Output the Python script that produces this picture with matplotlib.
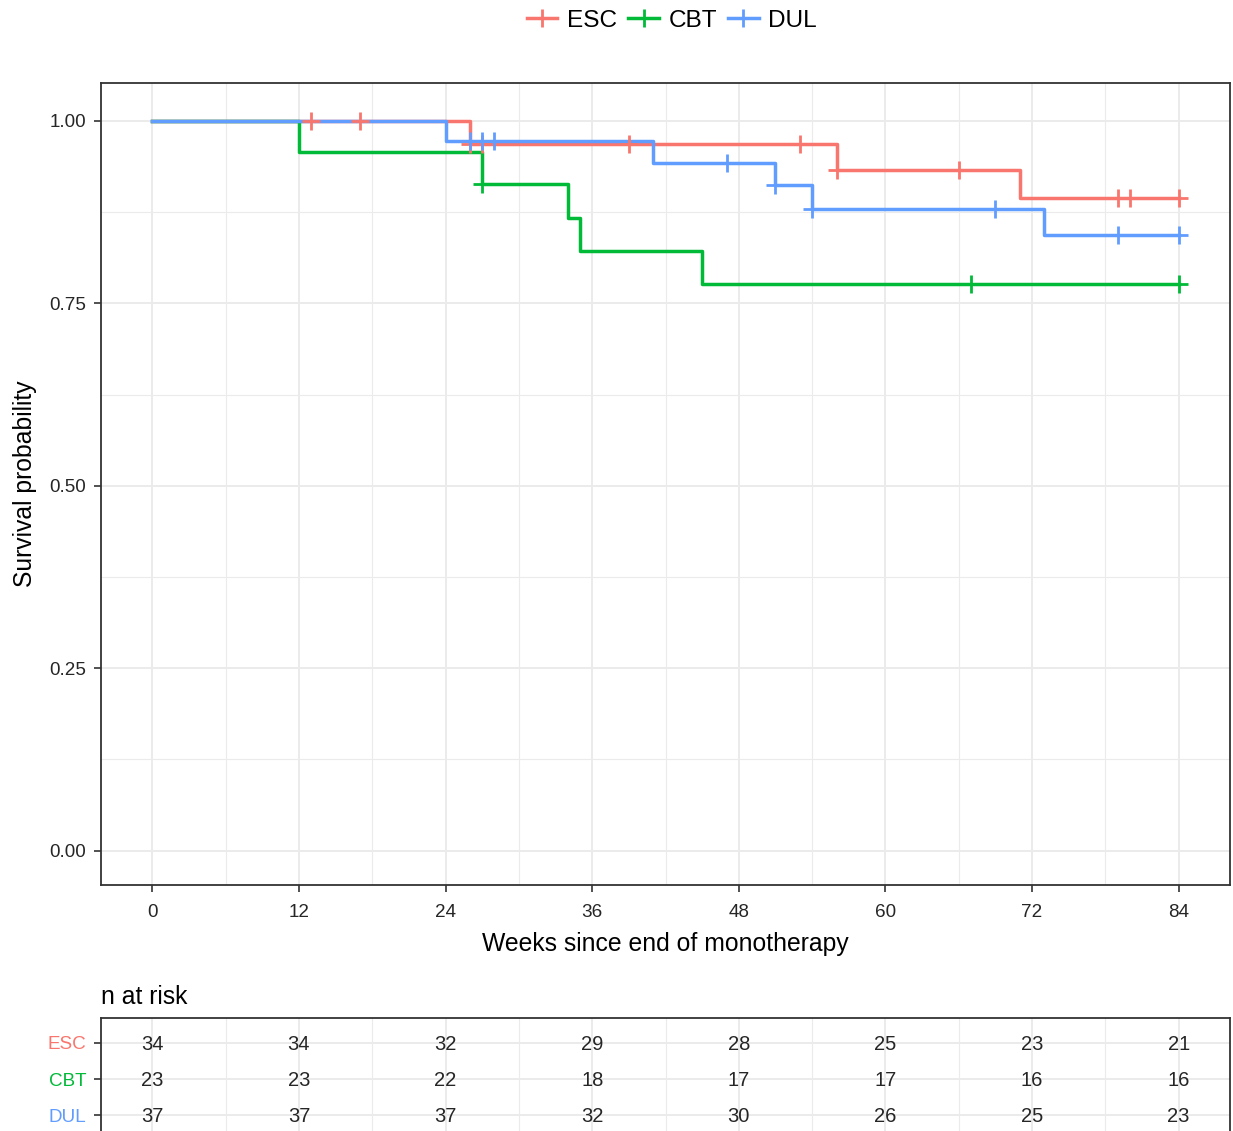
import numpy as np
import matplotlib.pyplot as plt
from matplotlib.lines import Line2D

plt.rcParams['font.family'] = ['Liberation Sans', 'DejaVu Sans']

#---------------------donnees-------------------
groups = ['ESC', 'CBT', 'DUL']
colors = ['#F8766D', '#00BA38', '#619CFF']

esc_t = [0, 26, 56, 71]
esc_s = [1.0, 0.969, 0.933, 0.894]
esc_cens = [13, 17, 26, 27, 39, 53, 56, 66, 79, 80, 84]

cbt_t = [0, 12, 27, 34, 35, 45]
cbt_s = [1.0, 0.957, 0.913, 0.867, 0.822, 0.776]
cbt_cens = [27, 67, 84]

dul_t = [0, 24, 41, 51, 54, 73]
dul_s = [1.0, 0.973, 0.943, 0.912, 0.880, 0.844]
dul_cens = [26, 27, 28, 47, 51, 54, 69, 79, 84]

risk_times = [0, 12, 24, 36, 48, 60, 72, 84]
risk_esc = [34, 34, 32, 29, 28, 25, 23, 21]
risk_cbt = [23, 23, 22, 18, 17, 17, 16, 16]
risk_dul = [37, 37, 37, 32, 30, 26, 25, 23]

t_end = 84
#----------------------------------------------------------------

curves = [(esc_t, esc_s, esc_cens), (cbt_t, cbt_s, cbt_cens), (dul_t, dul_s, dul_cens)]
risks = [risk_esc, risk_cbt, risk_dul]

W, H = 1233, 1131
fig = plt.figure(figsize=(W/100, H/100), dpi=100)

def frac(l, t, r, b):
    return [l/W, 1-b/H, (r-l)/W, (b-t)/H]

grid_c = '#EBEBEB'
border_c = '#333333'
txt_c = '#262626'

# courbes de survie
ax = fig.add_axes(frac(101, 83, 1230, 885))
for (t, s, cens), col in zip(curves, colors):
    tt = list(t) + [t_end]
    ss = list(s) + [s[-1]]
    ax.step(tt, ss, where='post', color=col, lw=2.5, zorder=3)
    idx = np.searchsorted(t, cens, side='right') - 1
    ax.plot(cens, np.array(s)[idx], ls='none', marker='+', ms=13.5, mew=2.0,
            color=col, zorder=4)

ax.set_xlim(-4.2, 88.2)
ax.set_ylim(-0.047, 1.052)
ax.set_xticks(risk_times)
ax.set_xticks(np.arange(6, 84, 12), minor=True)
ax.set_yticks([0, 0.25, 0.5, 0.75, 1.0])
ax.set_yticklabels(['0.00', '0.25', '0.50', '0.75', '1.00'])
ax.set_yticks([0.125, 0.375, 0.625, 0.875], minor=True)
ax.grid(which='major', color=grid_c, lw=1.4)
ax.grid(which='minor', color=grid_c, lw=0.8)
ax.set_axisbelow(True)
ax.tick_params(which='major', length=5, width=1.2, color=border_c,
               labelsize=13.6, labelcolor=txt_c, pad=5.5)
ax.tick_params(axis='x', pad=8.5)
ax.tick_params(which='minor', length=0)
for sp in ax.spines.values():
    sp.set_color(border_c)
    sp.set_linewidth(1.3)
ax.set_xlabel('Weeks since end of monotherapy', fontsize=17.8, labelpad=8)
ax.set_ylabel('Survival probability', fontsize=17.8, labelpad=9)

handles = [Line2D([], [], color=c, lw=2.5, marker='+', ms=13.5, mew=2.0) for c in colors]
fig.legend(handles, groups, loc='center', bbox_to_anchor=(672/W, 1-21/H), ncol=3,
           frameon=False, fontsize=17.6, handlelength=1.25, handletextpad=0.4,
           columnspacing=0.45)

# tableau des effectifs a risque
tab = fig.add_axes(frac(101, 1018, 1230, 1140))
ypos = [3, 2, 1]
for y, r in zip(ypos, risks):
    for x, n in zip(risk_times, r):
        tab.text(x, y - 0.04, str(n), ha='center', va='center', fontsize=14.5, color=txt_c)
tab.set_xlim(-4.2, 88.2)
tab.set_ylim(0.32, 3.68)
tab.set_xticks(risk_times)
tab.set_xticks(np.arange(6, 84, 12), minor=True)
tab.set_yticks(ypos)
tab.set_yticklabels(groups)
for lab, col in zip(tab.get_yticklabels(), colors):
    lab.set_color(col)
tab.grid(which='major', color=grid_c, lw=1.4)
tab.grid(which='minor', axis='x', color=grid_c, lw=0.8)
tab.set_axisbelow(True)
tab.tick_params(axis='y', length=5, width=1.2, color=border_c, labelsize=13.6, pad=5.5)
tab.tick_params(axis='x', length=0, labelbottom=False)
tab.tick_params(which='minor', length=0)
for sp in tab.spines.values():
    sp.set_color(border_c)
    sp.set_linewidth(1.3)
tab.set_title('n at risk', loc='left', fontsize=17.8, pad=10)

plt.savefig('out.png', dpi=100)
